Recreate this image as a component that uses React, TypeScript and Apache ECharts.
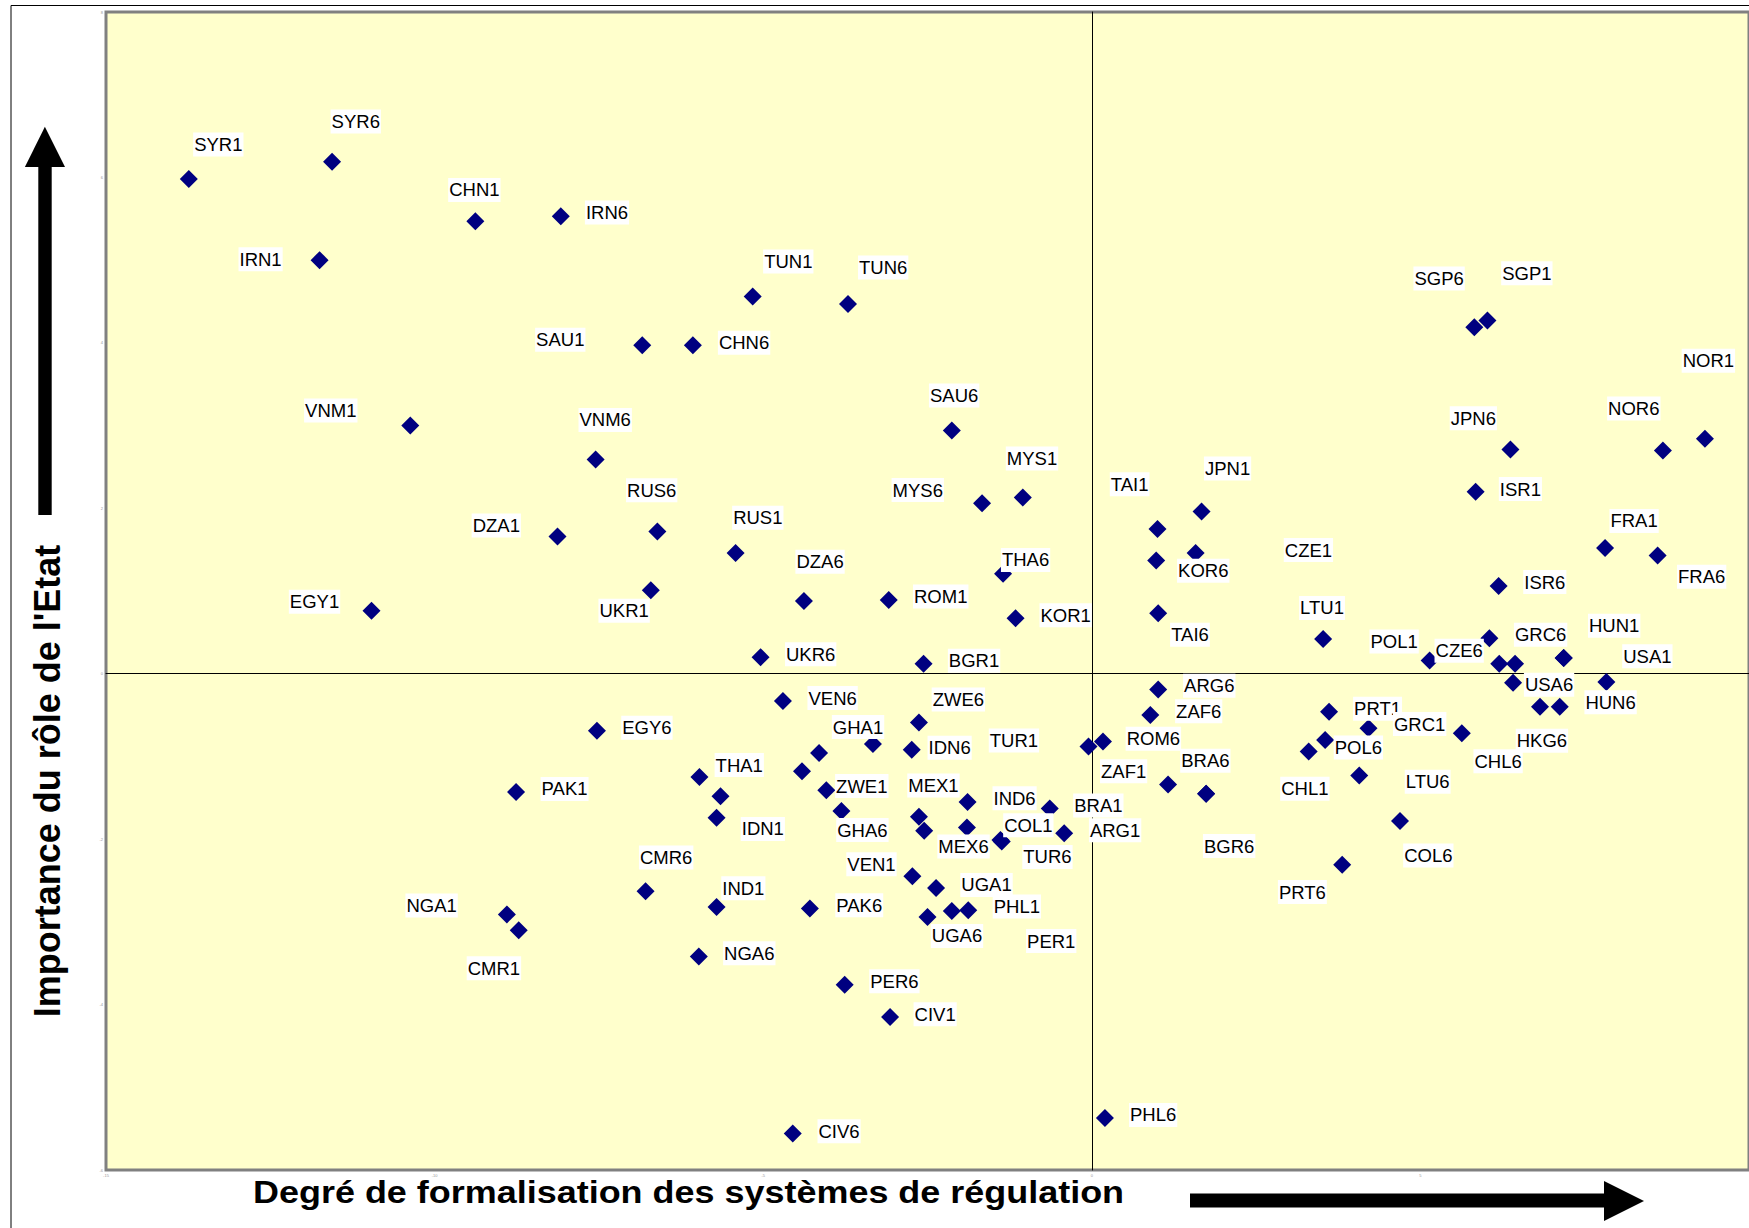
import React, { useEffect, useRef } from "react";
import * as echarts from "echarts";

// ---- data ----
const names: string[] = [
  "SYR1", "SYR6", "CHN1", "IRN6", "IRN1", "TUN1", "TUN6", "SAU1", "CHN6", "VNM1",
  "VNM6", "DZA1", "EGY1", "PAK1", "EGY6", "SAU6", "MYS1", "MYS6", "RUS6", "RUS1",
  "THA6", "UKR1", "DZA6", "ROM1", "KOR1", "UKR6", "BGR1", "TAI1", "CZE1", "KOR6",
  "JPN1", "TAI6", "VEN6", "ZWE6", "GHA1", "IDN6", "TUR1", "ROM6", "THA1", "",
  "", "", "ZWE1", "ZAF1", "MEX1", "", "IND6", "BRA1", "IDN1", "GHA6",
  "MEX6", "COL1", "TUR6", "ARG1", "VEN1", "UGA1", "CMR6", "IND1", "PAK6", "UGA6",
  "PER1", "PHL1", "NGA6", "PER6", "CIV1", "CIV6", "PHL6", "NGA1", "CMR1", "JPN6",
  "NOR6", "NOR1", "ISR1", "FRA1", "FRA6", "ISR6", "LTU1", "POL1", "GRC6", "CZE6",
  "", "USA1", "HUN1", "HUN6", "USA6", "HKG6", "", "ARG6", "ZAF6", "PRT1",
  "GRC1", "CHL6", "POL6", "CHL1", "LTU6", "COL6", "PRT6", "BRA6", "BGR6", "SGP6",
  "SGP1",
];

const xValues: number[] = [
  -13.74, -11.56, -9.38, -8.08, -11.75, -5.16, -3.71, -6.84, -6.07, -10.37,
  -7.55, -8.13, -10.96, -8.76, -7.53, -2.13, -1.05, -1.67, -6.61, -5.42,
  -1.35, -6.71, -4.38, -3.09, -1.16, -5.04, -2.56, 1.0, 0.98, 1.58,
  1.67, 1.01, -4.7, -2.63, -3.33, -2.74, -0.05, 0.17, -5.97, -5.65,
  -4.15, -4.41, -4.04, 1.16, -2.63, -2.55, -1.89, -0.64, -5.71, -3.81,
  -1.9, -1.39, -1.37, -0.42, -2.73, -2.37, -6.79, -5.71, -4.29, -2.5,
  -2.13, -1.88, -5.98, -3.76, -3.07, -4.55, 0.2, -8.9, -8.72, 6.37,
  8.69, 9.33, 5.84, 7.81, 8.61, 6.19, 3.52, 5.14, 6.05, 6.2,
  6.44, 7.18, 7.18, 7.83, 6.41, 6.82, 7.12, 1.01, 0.89, 3.61,
  4.21, 5.63, 3.55, 3.3, 4.07, 4.69, 3.81, 1.74, 1.74, 5.82,
  6.02,
];

const yValues: number[] = [
  5.98, 6.19, 5.47, 5.53, 5.0, 4.56, 4.47, 3.97, 3.97, 3.0,
  2.59, 1.66, 0.76, -1.43, -0.69, 2.94, 2.13, 2.06, 1.72, 1.46,
  1.21, 1.01, 0.88, 0.89, 0.67, 0.2, 0.12, 1.75, 1.37, 1.46,
  1.96, 0.73, -0.33, -0.59, -0.85, -0.92, -0.88, -0.82, -1.25, -1.48,
  -0.96, -1.18, -1.41, -1.34, -1.73, -1.9, -1.55, -1.63, -1.74, -1.66,
  -1.86, -2.01, -2.03, -1.93, -2.45, -2.59, -2.63, -2.82, -2.84, -2.94,
  -2.87, -2.86, -3.42, -3.76, -4.15, -5.56, -5.37, -2.91, -3.1, 2.71,
  2.7, 2.84, 2.2, 1.52, 1.43, 1.06, 0.42, 0.16, 0.43, 0.12,
  0.12, 0.19, 0.19, -0.1, -0.11, -0.4, -0.4, -0.19, -0.5, -0.46,
  -0.66, -0.72, -0.8, -0.94, -1.23, -1.78, -2.31, -1.45, -1.45, 4.19,
  4.27,
];

const xTicks = { min: -15, max: 10, interval: 5 };
const yTicks = { min: -6, max: 8, interval: 2 };

const xTitle = "Degré de formalisation des systèmes de régulation";
const yTitle = "Importance du rôle de l'Etat";

// ---- layout: label box offsets (px) from each marker, null = label hidden ----
const labelOffsets: ([number, number] | null)[] = [
  [29.5, -32.7], [23.7, -38.3], [-1, -29.3], [46.2, -1.7], [-59, 1], [35.6, -33], [35.2, -34.6], [-82, -3.7], [51.2, -0.7], [-79.5, -13],
  [9.6, -37.6], [-61.2, -9], [-57, -7], [48.5, -1], [50, -1], [2.3, -33], [9.2, -37], [-64.3, -11.3], [-5.7, -39.3], [22.2, -33.3],
  [22.5, -11.7], [-26.7, 22.7], [16.1, -37.3], [52, -1.6], [50.1, -1], [50.1, -1], [50.5, -1], [-27.9, -42.7], [152.2, -8.3], [7.6, 19.7],
  [26, -41], [31.8, 23.4], [49.7, -1], [39.4, -21], [-14.9, -15], [37.9, 0], [-74.6, -4], [50.4, -0.7], [39.8, -10], null,
  null, null, [35.5, -2.3], [-44.4, -11.3], [14.5, -29.3], null, [47, -1.7], [48.6, -1], [46.3, 13.3], [21, 21],
  [-3.4, 21], [27.9, -12.6], [45.7, 17.3], [50.9, -1], [-40.9, -10], [50.5, -1], [20.6, -31.7], [26.8, -16.7], [49.4, -1.3], [29.5, 21],
  [99.4, 32], [48.6, -1.7], [50.5, -1.3], [49.7, -1.4], [45.1, -0.7], [46.3, -0.4], [48.2, -1], [-75.3, -7], [-24.8, 40], [-37.1, -29.4],
  [-29.1, -40], [3.4, -76], [44.8, -0.7], [29, -25], [44, 23.4], [46.2, -2], [-1.1, -29], [-35.5, -17], [51.2, -1.3], [-40.1, -11],
  null, [83.7, 0.3], [50.5, -30.3], [4.2, 22.3], [36, 4], [1.9, 36], null, [51.1, -1.6], [48.4, -1.7], [48.5, -1],
  [51.2, -2.3], [36.3, 30], [33.3, 9.7], [-3.8, 39.3], [68.4, 8.3], [28.3, 36.6], [-39.8, 29.3], [-0.8, -31], [23, 54.4], [-35.2, -46.7],
  [39.4, -45.3],
];

const FONT = "'Liberation Sans', Arial, Helvetica, sans-serif";

export default function App() {
  const ref = useRef<HTMLDivElement>(null);

  useEffect(() => {
    if (!ref.current) return;
    const chart = echarts.init(ref.current, undefined, { renderer: "svg" });

    const pointData = names.map((n, i) => ({ name: n, value: [xValues[i], yValues[i]] }));
    const labelData = names.map((n, i) => {
      const off = labelOffsets[i];
      return {
        name: n,
        value: [xValues[i], yValues[i]],
        label: off ? { show: true, offset: [off[0], off[1] - 2] } : { show: false },
      };
    });

    const axisCommon = {
      type: "value" as const,
      axisLine: { show: true, onZero: true, lineStyle: { color: "#000", width: 1 } },
      axisTick: { show: false },
      splitLine: { show: false },
      axisLabel: { fontSize: 4, color: "#999", margin: 3, fontFamily: FONT },
    };

    chart.setOption({
      animation: false,
      backgroundColor: "#ffffff",
      grid: {
        left: 106,
        right: 0,
        top: 12,
        bottom: 58,
        containLabel: false,
        outerBoundsMode: "none",
        show: true,
        backgroundColor: "#FFFFCC",
        borderColor: "#808080",
        borderWidth: 3,
      },
      xAxis: {
        ...axisCommon,
        min: xTicks.min,
        max: xTicks.max,
        interval: xTicks.interval,
        axisLabel: { ...axisCommon.axisLabel, showMaxLabel: false },
      },
      yAxis: { ...axisCommon, min: yTicks.min, max: yTicks.max, interval: yTicks.interval },
      series: [
        {
          type: "scatter",
          z: 2,
          symbol: "diamond",
          symbolSize: 18,
          itemStyle: { color: "#000080", opacity: 1 },
          emphasis: { disabled: true },
          data: pointData,
        },
        {
          type: "scatter",
          z: 5,
          symbol: "circle",
          symbolSize: 1,
          itemStyle: { color: "rgba(0,0,0,0)", opacity: 1 },
          emphasis: { disabled: true },
          label: {
            show: true,
            position: "inside",
            formatter: "{b}",
            fontSize: 18.5,
            lineHeight: 19,
            fontFamily: FONT,
            color: "#000",
            backgroundColor: "#ffffff",
            padding: [0, 1, 5, 1],
            align: "center",
            verticalAlign: "middle",
          },
          data: labelData,
        },
      ],
      graphic: [
        {
          type: "rect",
          silent: true,
          shape: { x: 11, y: 5.5, width: 1800, height: 1300 },
          style: { fill: "none", stroke: "#000", lineWidth: 1 },
        },
        {
          type: "rect",
          silent: true,
          shape: { x: 38.3, y: 164, width: 13.4, height: 351 },
          style: { fill: "#000" },
        },
        {
          type: "polygon",
          silent: true,
          shape: { points: [[24.9, 167], [65, 167], [44.9, 126.7]] },
          style: { fill: "#000" },
        },
        {
          type: "rect",
          silent: true,
          shape: { x: 1190, y: 1193.5, width: 416, height: 14 },
          style: { fill: "#000" },
        },
        {
          type: "polygon",
          silent: true,
          shape: { points: [[1604, 1181], [1604, 1221], [1644, 1201]] },
          style: { fill: "#000" },
        },
        {
          type: "text",
          silent: true,
          x: 253,
          y: 1192,
          scaleX: 1.16,
          style: {
            text: xTitle,
            fontSize: 31,
            fontWeight: "bold",
            fontFamily: FONT,
            fill: "#000",
            align: "left",
            verticalAlign: "middle",
          },
        },
        {
          type: "text",
          silent: true,
          x: 47.5,
          y: 781,
          rotation: Math.PI / 2,
          style: {
            text: yTitle,
            fontSize: 36,
            fontWeight: "bold",
            fontFamily: FONT,
            fill: "#000",
            align: "center",
            verticalAlign: "middle",
          },
        },
      ],
    });

    return () => chart.dispose();
  }, []);

  return (
    <div
      ref={ref}
      style={{ position: "absolute", left: 0, top: 0, width: 1749, height: 1228 }}
    />
  );
}
